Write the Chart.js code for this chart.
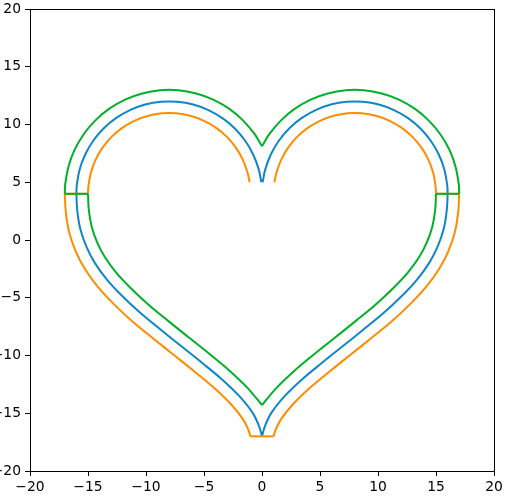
<!DOCTYPE html>
<html><head><meta charset="utf-8">
<script src="https://cdn.jsdelivr.net/npm/chart.js@4.4.0/dist/chart.umd.min.js"></script>
<style>html,body{margin:0;padding:0;background:#fff}canvas{display:block}</style>
</head><body>
<canvas id="c" width="506" height="504"></canvas>
<script>
// ---- data ----
const xTicks = [-20, -15, -10, -5, 0, 5, 10, 15, 20];
const yTicks = [-20, -15, -10, -5, 0, 5, 10, 15, 20];

// blue (middle) curve
const blueArcLeft = [[-0.06,5.0],[-0.27,6.07],[-0.75,7.38],[-1.45,8.59],[-2.34,9.66],[-3.41,10.55],[-4.62,11.25],[-5.93,11.73],[-7.3,11.97],[-8.7,11.97],[-10.07,11.73],[-11.38,11.25],[-12.59,10.55],[-13.66,9.66],[-14.55,8.59],[-15.25,7.38],[-15.73,6.07],[-15.97,4.7],[-16,4]];
const blueLowLeft = [[-16,4],[-15.92,2.5],[-15.65,0.9],[-15.13,-0.6],[-14.4,-2.0],[-13.35,-3.45],[-12.05,-4.85],[-10.45,-6.35],[-8.75,-7.75],[-6.95,-9.2],[-5.15,-10.65],[-3.47,-12.05],[-1.97,-13.5],[-0.82,-14.95],[-0.24,-16.15],[0,-17]];
const blueArcRight = [[0.06,5.0],[0.27,6.07],[0.75,7.38],[1.45,8.59],[2.34,9.66],[3.41,10.55],[4.62,11.25],[5.93,11.73],[7.3,11.97],[8.7,11.97],[10.07,11.73],[11.38,11.25],[12.59,10.55],[13.66,9.66],[14.55,8.59],[15.25,7.38],[15.73,6.07],[15.97,4.7],[16,4]];
const blueLowRight = [[16,4],[15.92,2.5],[15.65,0.9],[15.13,-0.6],[14.4,-2.0],[13.35,-3.45],[12.05,-4.85],[10.45,-6.35],[8.75,-7.75],[6.95,-9.2],[5.15,-10.65],[3.47,-12.05],[1.97,-13.5],[0.82,-14.95],[0.24,-16.15],[0,-17]];

// orange curve
const orangeArcLeft = [[-1.07,5.0],[-1.24,5.81],[-1.66,6.96],[-2.27,8.02],[-3.05,8.95],[-3.98,9.73],[-5.04,10.34],[-6.19,10.76],[-7.39,10.97],[-8.61,10.97],[-9.81,10.76],[-10.96,10.34],[-12.02,9.73],[-12.95,8.95],[-13.73,8.02],[-14.34,6.96],[-14.76,5.81],[-14.97,4.61],[-15,4]];
const orangeJoinLeft = [[-15,4],[-17,4]];
const orangeLowLeft = [[-17,4],[-16.91,2.39],[-16.62,0.65],[-16.05,-1.0],[-15.25,-2.53],[-14.13,-4.08],[-12.77,-5.55],[-11.12,-7.1],[-9.38,-8.52],[-7.57,-9.98],[-5.78,-11.42],[-4.14,-12.79],[-2.71,-14.18],[-1.66,-15.49],[-1.17,-16.45],[-1,-17]];
const orangeBottom = [[-1,-17],[1,-17]];
const orangeLowRight = [[17,4],[16.91,2.39],[16.62,0.65],[16.05,-1.0],[15.25,-2.53],[14.13,-4.08],[12.77,-5.55],[11.12,-7.1],[9.38,-8.52],[7.57,-9.98],[5.78,-11.42],[4.14,-12.79],[2.71,-14.18],[1.66,-15.49],[1.17,-16.45],[1,-17]];
const orangeJoinRight = [[15,4],[17,4]];
const orangeArcRight = [[1.07,5.0],[1.24,5.81],[1.66,6.96],[2.27,8.02],[3.05,8.95],[3.98,9.73],[5.04,10.34],[6.19,10.76],[7.39,10.97],[8.61,10.97],[9.81,10.76],[10.96,10.34],[12.02,9.73],[12.95,8.95],[13.73,8.02],[14.34,6.96],[14.76,5.81],[14.97,4.61],[15,4]];

// green curve
const greenArcLeft = [[0,8.12],[-0.63,9.16],[-1.64,10.36],[-2.84,11.37],[-4.2,12.16],[-5.67,12.69],[-7.22,12.97],[-8.78,12.97],[-10.33,12.69],[-11.8,12.16],[-13.16,11.37],[-14.36,10.36],[-15.37,9.16],[-16.16,7.8],[-16.69,6.33],[-16.97,4.78],[-17,4]];
const greenJoinLeft = [[-17,4],[-15,4]];
const greenLowLeft = [[-15,4],[-14.93,2.61],[-14.68,1.15],[-14.21,-0.2],[-13.55,-1.47],[-12.57,-2.82],[-11.33,-4.15],[-9.78,-5.6],[-8.12,-6.98],[-6.33,-8.42],[-4.52,-9.87],[-2.8,-11.31],[-1.23,-12.82],[0,-14.3]];
const greenArcRight = [[0,8.12],[0.63,9.16],[1.64,10.36],[2.84,11.37],[4.2,12.16],[5.67,12.69],[7.22,12.97],[8.78,12.97],[10.33,12.69],[11.8,12.16],[13.16,11.37],[14.36,10.36],[15.37,9.16],[16.16,7.8],[16.69,6.33],[16.97,4.78],[17,4]];
const greenJoinRight = [[17,4],[15,4]];
const greenLowRight = [[15,4],[14.93,2.61],[14.68,1.15],[14.21,-0.2],[13.55,-1.47],[12.57,-2.82],[11.33,-4.15],[9.78,-5.6],[8.12,-6.98],[6.33,-8.42],[4.52,-9.87],[2.8,-11.31],[1.23,-12.82],[0,-14.3]];

// ---- styles ----
const BLUE = '#0f86c8', ORANGE = '#ff8c00', GREEN = '#00b02a';

function seg(pts, color, order) {
  return {
    data: pts.map(([x, y]) => ({x, y})),
    borderColor: color, backgroundColor: color,
    borderWidth: 2, pointRadius: 0, pointHoverRadius: 0,
    showLine: true, fill: false, tension: 0.33, order: order
  };
}

const datasets = [
  seg(blueArcLeft.concat(blueLowLeft.slice(1)), BLUE, 3),
  seg(blueArcRight.concat(blueLowRight.slice(1)), BLUE, 3),
  seg(orangeArcLeft, ORANGE, 2), seg(orangeJoinLeft, ORANGE, 2), seg(orangeLowLeft, ORANGE, 2),
  seg(orangeBottom, ORANGE, 2), seg(orangeLowRight, ORANGE, 2), seg(orangeJoinRight, ORANGE, 2),
  seg(orangeArcRight, ORANGE, 2),
  seg(greenArcLeft, GREEN, 1), seg(greenJoinLeft, GREEN, 1), seg(greenLowLeft, GREEN, 1),
  seg(greenArcRight, GREEN, 1), seg(greenJoinRight, GREEN, 1), seg(greenLowRight, GREEN, 1)
];

const fmt = v => (v < 0 ? '\u2212' + Math.abs(v) : String(v));

const frame = {
  id: 'frame',
  afterDraw(chart) {
    const a = chart.chartArea, ctx = chart.ctx;
    ctx.save();
    ctx.strokeStyle = '#000';
    ctx.lineWidth = 1;
    ctx.strokeRect(Math.round(a.left) + 0.5, Math.round(a.top) + 0.5,
      Math.round(a.right - a.left), Math.round(a.bottom - a.top));
    ctx.restore();
  }
};

Chart.defaults.font.family = 'DejaVu Sans';
Chart.defaults.font.size = 13.89;
Chart.defaults.color = '#000';

new Chart(document.getElementById('c'), {
  type: 'scatter',
  data: { datasets },
  options: {
    responsive: false, animation: false,
    events: [],
    layout: { padding: { top: 9, right: 12, left: 0, bottom: 0 } },
    plugins: { legend: { display: false }, tooltip: { enabled: false } },
    scales: {
      x: {
        type: 'linear', min: -20, max: 20,
        afterBuildTicks: s => { s.ticks = xTicks.map(v => ({ value: v })); },
        afterFit: s => { s.height = 33; s.paddingLeft = 0; s.paddingRight = 0; },
        ticks: { color: '#000', padding: 3, maxRotation: 0, autoSkip: false, callback: v => fmt(v) },
        grid: { display: true, drawOnChartArea: false, drawTicks: true, tickLength: 5, color: '#000', lineWidth: 1 },
        border: { display: true, color: '#000', width: 1 }
      },
      y: {
        type: 'linear', min: -20, max: 20,
        afterBuildTicks: s => { s.ticks = yTicks.map(v => ({ value: v })); },
        afterFit: s => { s.width = 30; s.paddingTop = 0; s.paddingBottom = 0; },
        ticks: { color: '#000', padding: 4, autoSkip: false, callback: v => fmt(v) },
        grid: { display: true, drawOnChartArea: false, drawTicks: true, tickLength: 5, color: '#000', lineWidth: 1 },
        border: { display: true, color: '#000', width: 1 }
      }
    }
  },
  plugins: [frame]
});
</script>
</body></html>
